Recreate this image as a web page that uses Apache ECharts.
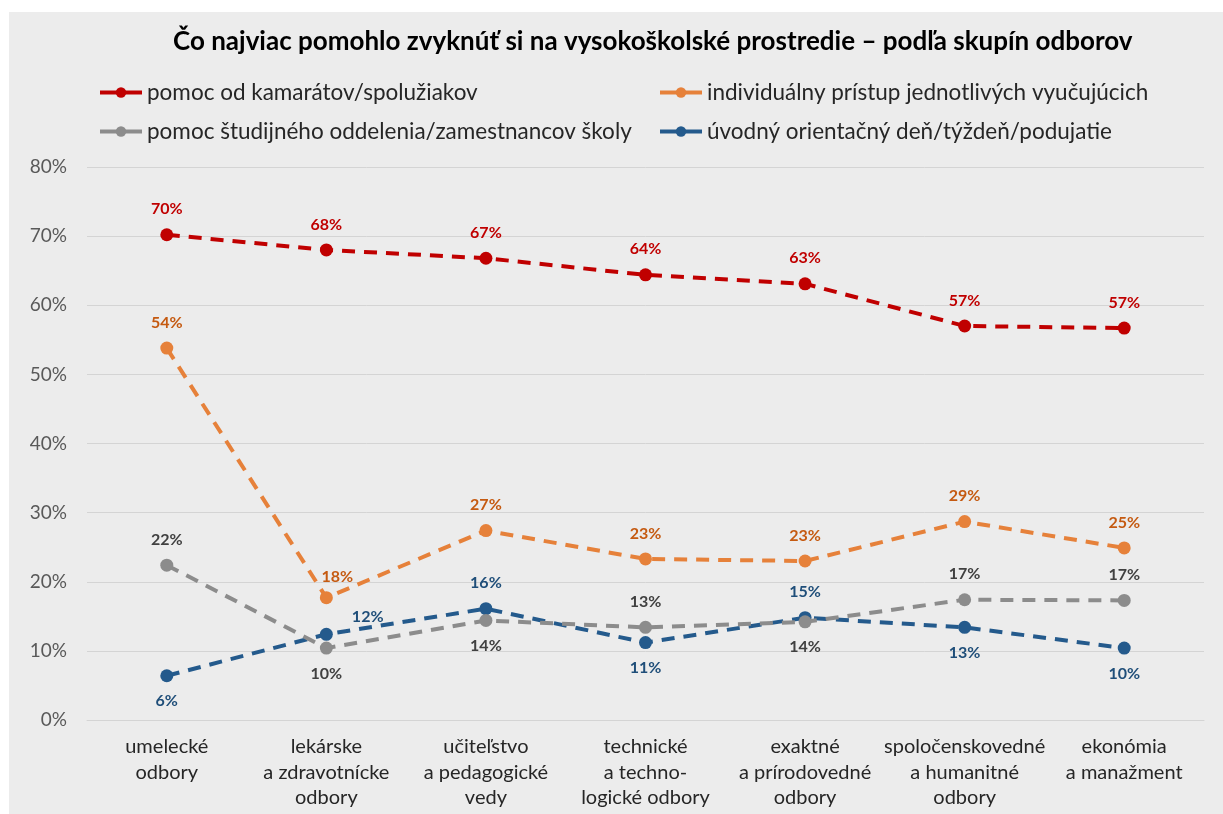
<!DOCTYPE html>
<html>
<head>
<meta charset="utf-8">
<script src="https://cdn.jsdelivr.net/npm/echarts@6/dist/echarts.min.js"></script>
<style>
  html, body { margin: 0; padding: 0; background: #ffffff; }
  #chart { width: 1223px; height: 814px; }
</style>
</head>
<body>
<div id="chart"></div>
<script>
// Skupiny odborov (x-axis categories)
const categories = [
  'umelecké\nodbory',
  'lekárske\na zdravotnícke\nodbory',
  'učiteľstvo\na pedagogické\nvedy',
  'technické\na techno-\nlogické odbory',
  'exaktné\na prírodovedné\nodbory',
  'spoločenskovedné\na humanitné\nodbory',
  'ekonómia\na manažment'
];

// Series names
const seriesNames = [
  'pomoc od kamarátov/spolužiakov',
  'individuálny prístup jednotlivých vyučujúcich',
  'pomoc študijného oddelenia/zamestnancov školy',
  'úvodný orientačný deň/týždeň/podujatie'
];

// Shares in percent
const kamarati   = [70.2, 68.0, 66.8, 64.4, 63.1, 57.0, 56.7];
const vyucujuci  = [53.8, 17.7, 27.4, 23.3, 23.0, 28.7, 24.9];
const oddelenie  = [22.4, 10.4, 14.4, 13.4, 14.2, 17.4, 17.3];
const orientacny = [6.4, 12.4, 16.1, 11.2, 14.8, 13.4, 10.4];

// Y-axis ticks
const yMin = 0, yMax = 80, yStep = 10;

const FONT = 'Lato';

const lineColors  = ['#c00000', '#e6813a', '#8c8c8c', '#245a8c'];
const labelColors = ['#c00000', '#c55a11', '#404040', '#1f4e79'];
const seriesData  = [kamarati, vyucujuci, oddelenie, orientacny];

// where each point's value label sits
const placement = [
  ['top', 'top', 'top', 'top', 'top', 'top', 'top'],
  ['top', 'top', 'top', 'top', 'top', 'top', 'top'],
  ['top', 'bottom', 'bottom', 'top', 'bottom', 'top', 'top'],
  ['bottom', 'right', 'top', 'bottom', 'top', 'bottom', 'bottom']
];
// labels nudged off their default spot (series, point) -> [dx, dy]
const nudges = { '1,1': [11, 5], '3,1': [8, -17] };

function buildSeries(i) {
  return {
    name: seriesNames[i],
    type: 'line',
    symbol: 'circle',
    symbolSize: 13,
    z: 10 - i,
    itemStyle: { color: lineColors[i] },
    lineStyle: { color: lineColors[i], width: 4, type: [13, 9] },
    label: {
      show: true,
      fontFamily: FONT,
      fontWeight: 'bold',
      fontSize: 16,
      color: labelColors[i],
      distance: 11,
      formatter: p => Math.round(p.value) + '%'
    },
    data: seriesData[i].map((v, j) => {
      const item = { value: v, label: { position: placement[i][j] } };
      const n = nudges[i + ',' + j];
      if (n) { item.label.offset = n; }
      return item;
    })
  };
}

const chart = echarts.init(document.getElementById('chart'), null, { renderer: 'canvas' });

const legendBase = {
  orient: 'vertical',
  itemWidth: 42,
  itemHeight: 13,
  itemGap: 16,
  textStyle: { fontFamily: FONT, fontSize: 22.5, color: '#262626' },
  lineStyle: { type: 'solid', width: 4 }
};

chart.setOption({
  backgroundColor: '#ffffff',
  animation: false,
  graphic: [{
    type: 'rect',
    z: -10,
    shape: { x: 9, y: 12, width: 1214, height: 802 },
    style: { fill: '#ececec' }
  }],
  title: {
    text: 'Čo najviac pomohlo zvyknúť si na vysokoškolské prostredie – podľa skupín odborov',
    left: 168,
    top: 24,
    textStyle: { fontFamily: FONT, fontWeight: 'bold', fontSize: 26, color: '#000000' }
  },
  legend: [
    Object.assign({}, legendBase, { left: 93, top: 76, data: [seriesNames[0], seriesNames[2]] }),
    Object.assign({}, legendBase, { left: 653, top: 76, data: [seriesNames[1], seriesNames[3]] })
  ],
  grid: { left: 87, right: 19, top: 167, bottom: 94 },
  xAxis: {
    type: 'category',
    data: categories,
    boundaryGap: true,
    axisLine: { show: true, lineStyle: { color: '#d4d4d4', width: 1 } },
    axisTick: { show: false },
    axisLabel: {
      interval: 0,
      margin: 14,
      fontFamily: FONT,
      fontSize: 20,
      lineHeight: 25.5,
      color: '#262626'
    }
  },
  yAxis: {
    type: 'value',
    min: yMin,
    max: yMax,
    interval: yStep,
    axisLine: { show: false },
    axisTick: { show: false },
    splitLine: { lineStyle: { color: '#d4d4d4', width: 1 } },
    axisLabel: {
      margin: 20,
      fontFamily: FONT,
      fontSize: 19,
      color: '#595959',
      formatter: '{value}%'
    }
  },
  series: [0, 1, 2, 3].map(buildSeries)
});
</script>
</body>
</html>
